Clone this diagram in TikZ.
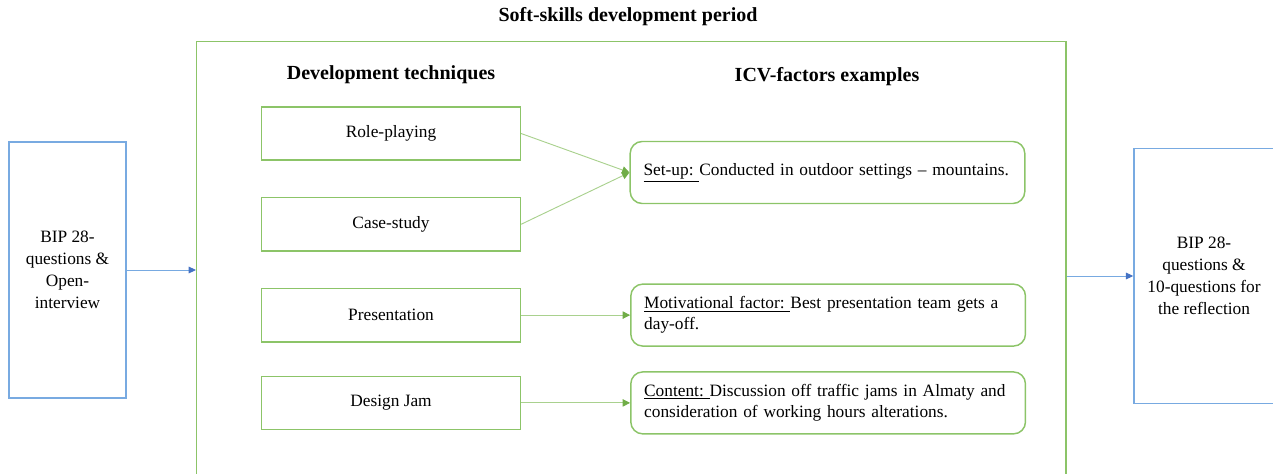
\documentclass[tikz,border=0pt]{standalone}
\usepackage{fontspec}
\setmainfont{Liberation Serif}
\usetikzlibrary{positioning,arrows.meta}
\definecolor{cG}{RGB}{112,173,71}
\definecolor{cGb}{RGB}{140,196,104}
\definecolor{cGl}{RGB}{169,209,142}
\definecolor{cB}{RGB}{120,170,225}
\definecolor{cBd}{RGB}{68,114,196}
\tikzset{myframe/.style={
  shape=rectangle,
  draw=cGb,
  line width=1pt,
  inner sep=0pt,
  }
}
\tikzset{myhead/.style={
  font=\fontsize{15}{17}\bfseries\selectfont,
  inner sep=0pt,
  }
}
\tikzset{mybox/.style={
  shape=rectangle,
  draw=cGb,
  line width=1.1pt,
  minimum width=194pt,
  minimum height=40pt,
  font=\fontsize{13}{15}\selectfont,
  }
}
\tikzset{myboxR/.style={
  shape=rectangle,
  rounded corners=9pt,
  draw=cGb,
  line width=1.1pt,
  minimum height=46.5pt,
  text width=276pt,
  inner xsep=10pt,
  align=left,
  font=\fontsize{13}{15.75}\selectfont,
  }
}
\tikzset{myboxB/.style={
  shape=rectangle,
  draw=cB,
  line width=1.1pt,
  align=center,
  font=\fontsize{13}{16.5}\selectfont,
  }
}
\tikzset{myarrowG/.style={
  draw=cGl,
  line width=0.7pt,
  -{Triangle[length=5.5pt,width=5.5pt,color=cG]},
  }
}
\tikzset{myarrowB/.style={
  draw=cB,
  line width=0.7pt,
  -{Triangle[length=5.5pt,width=5pt,color=cBd]},
  }
}

\begin{document}
\begin{tikzpicture}[x=0.75pt,y=-0.75pt]
  \useasboundingbox (0,0) rectangle (1273,474);
  \clip (0,0) rectangle (1273,474);

  % the period frame runs past the lower edge
  \node [myframe, anchor=north west, minimum width=652pt, minimum height=340pt] (period) at (196,41) {};
  \node [myhead] (title) at (628,17) {Soft-skills development period};
  \node [myhead] (techhead) at (391,75) {Development techniques};
  \node [myhead] (icvhead) at (827,77) {ICV-factors examples};

  % techniques
  \node [mybox] (role) at (391,133.5) {Role-playing};
  \node [mybox, below=27pt of role] (case) {Case-study};
  \node [mybox, below=27pt of case] (present) {Presentation};
  \node [mybox, below=24.75pt of present] (design) {Design Jam};

  % factors
  \node [myboxR] (setup) at (827.5,172.5) {\underline{Set-up:\ }Conducted in outdoor settings -- mountains.};
  \node [myboxR, right=81.75pt of present] (motiv) {\underline{Motivational factor:\ }Best presentation team gets a\\day-off.};
  \node [myboxR, right=81.75pt of design] (content) {\underline{Content:\ }Discussion off traffic jams in Almaty and\\consideration of working hours alterations.};

  % before and after
  \node [myboxB, minimum width=88pt, minimum height=192pt] (bipin) at (67.5,270) {BIP 28-\\questions \&\\Open-\\interview};
  \node [myboxB, minimum width=105pt, minimum height=191pt] (bipout) at (1204,276) {BIP 28-\\questions \&\\10-questions for\\the reflection};

  \draw [myarrowG] (role.east) -- (setup.west);
  \draw [myarrowG] (case.east) -- (setup.west);
  \draw [myarrowG] (present.east) -- (motiv.west);
  \draw [myarrowG] (design.east) -- (content.west);
  \draw [myarrowB] (bipin.east) -- (bipin.east -| period.west);
  \draw [myarrowB] (bipout.west -| period.east) -- (bipout.west);
\end{tikzpicture}
\end{document}
